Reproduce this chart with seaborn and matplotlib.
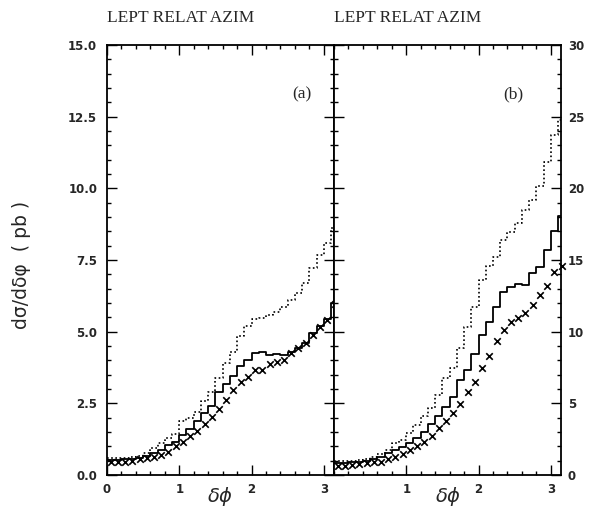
import numpy as np
import pandas as pd
import matplotlib
matplotlib.use("Agg")
import matplotlib.pyplot as plt
import seaborn as sns
from matplotlib.ticker import MultipleLocator

# ---- data (bin width 0.1 in delta-phi, 32 bins) ----
bin_edges = [round(0.1 * i, 2) for i in range(33)]

a_solid = [0.52, 0.53, 0.55, 0.57, 0.60, 0.66, 0.76, 0.87, 1.05, 1.16,
           1.40, 1.60, 1.89, 2.15, 2.41, 2.91, 3.16, 3.45, 3.80, 4.01,
           4.24, 4.28, 4.20, 4.22, 4.20, 4.30, 4.42, 4.59, 4.95, 5.20,
           5.45, 6.00]
a_dotted = [0.60, 0.60, 0.61, 0.62, 0.66, 0.78, 0.93, 1.10, 1.28, 1.43,
            1.89, 1.98, 2.21, 2.59, 2.90, 3.37, 3.90, 4.30, 4.85, 5.20,
            5.45, 5.47, 5.58, 5.70, 5.85, 6.10, 6.34, 6.69, 7.21, 7.67,
            8.08, 8.60]
a_cross = [0.44, 0.46, 0.46, 0.50, 0.56, 0.58, 0.63, 0.69, 0.81, 1.00,
           1.15, 1.35, 1.55, 1.77, 2.03, 2.31, 2.60, 2.95, 3.23, 3.41,
           3.65, 3.65, 3.87, 3.95, 4.00, 4.24, 4.42, 4.61, 4.88, 5.17,
           5.41, 5.96]

b_solid = [0.85, 0.86, 0.88, 0.92, 1.00, 1.13, 1.28, 1.56, 1.74, 1.98,
           2.26, 2.56, 3.02, 3.53, 4.12, 4.77, 5.47, 6.63, 7.33, 8.42,
           9.77, 10.65, 11.70, 12.79, 13.14, 13.33, 13.26, 14.12, 14.54, 15.70,
           17.00, 18.10]
b_dotted = [0.98, 1.00, 1.00, 1.05, 1.12, 1.28, 1.44, 1.74, 2.21, 2.44,
            2.91, 3.49, 4.12, 4.65, 5.58, 6.75, 7.44, 8.84, 10.35, 11.74,
            13.60, 14.60, 15.23, 16.40, 16.98, 17.56, 18.49, 19.19, 20.17, 21.86,
            23.70, 24.77]
b_cross = [0.65, 0.65, 0.72, 0.77, 0.81, 0.93, 0.93, 1.12, 1.23, 1.44,
           1.74, 2.02, 2.33, 2.75, 3.30, 3.77, 4.35, 4.93, 5.81, 6.47,
           7.44, 8.30, 9.37, 10.12, 10.70, 10.93, 11.28, 11.86, 12.56, 13.19,
           14.19, 14.60]

panel_titles = ["LEPT RELAT AZIM", "LEPT RELAT AZIM"]
panel_tags = ["(a)", "(b)"]
y_label = "dσ/dδφ  ( pb )"
x_label = r"$\delta\phi$"

# ---- figure ----
sns.set_theme(style="white")
plt.rcParams["font.family"] = ["DejaVu Sans"]

fig = plt.figure(figsize=(5.89, 5.15), dpi=100)
L, R, M = 107 / 589, 561 / 589, 334 / 589
B, T = 1 - 475 / 515, 1 - 45 / 515
axa = fig.add_axes([L, B, M - L, T - B])
axb = fig.add_axes([M, B, R - M, T - B])

edges = np.array(bin_edges)
centers = (edges[:-1] + edges[1:]) / 2


def draw(ax, solid, dotted, cross):
    xs = list(edges)
    df_s = pd.DataFrame({"x": xs, "y": list(solid) + [solid[-1]]})
    df_d = pd.DataFrame({"x": xs, "y": list(dotted) + [dotted[-1]]})
    sns.lineplot(data=df_d, x="x", y="y", ax=ax, color="black", lw=1.2,
                 linestyle=(0, (1, 1.5)), drawstyle="steps-post",
                 estimator=None, sort=False)
    sns.lineplot(data=df_s, x="x", y="y", ax=ax, color="black", lw=1.3,
                 drawstyle="steps-post", estimator=None, sort=False)
    df_c = pd.DataFrame({"x": centers, "y": cross})
    sns.scatterplot(data=df_c, x="x", y="y", ax=ax, marker="x", color="black",
                    s=22, linewidth=1.2, clip_on=False, zorder=5)


draw(axa, a_solid, a_dotted, a_cross)
draw(axb, b_solid, b_dotted, b_cross)

tickfont = dict(family="DejaVu Sans", weight="bold", size=8.5)

for i, (ax, ymax, ymaj, ymin) in enumerate([(axa, 15.0, 2.5, 0.5),
                                             (axb, 30, 5, 1)]):
    ax.set_xlim(0, np.pi)
    ax.set_ylim(0, ymax)
    ax.set_xlabel("")
    ax.set_ylabel("")
    ax.xaxis.set_major_locator(MultipleLocator(1))
    ax.xaxis.set_minor_locator(MultipleLocator(0.2))
    ax.yaxis.set_major_locator(MultipleLocator(ymaj))
    ax.yaxis.set_minor_locator(MultipleLocator(ymin))
    ax.tick_params(which="both", direction="in", top=True, bottom=True,
                   left=True, right=True, color="black", width=1.0)
    ax.tick_params(which="major", length=7)
    ax.tick_params(which="minor", length=3)
    for s in ax.spines.values():
        s.set_color("black")
        s.set_linewidth(1.3)
    ax.text(x=0.0, y=1.045, s=panel_titles[i], transform=ax.transAxes,
            ha="left", va="bottom", family="Liberation Serif", fontsize=12.5)

axa.tick_params(labelleft=True, labelright=False)
axa.set_xticks([0, 1, 2, 3])
axa.set_xticklabels(["0", "1", "2", "3"], **tickfont)
yt = np.arange(0, 15.01, 2.5)
axa.set_yticks(yt)
axa.set_yticklabels([f"{v:.1f}" for v in yt], **tickfont)
axa.tick_params(axis="y", pad=7)
axa.tick_params(axis="x", pad=6)

axb.tick_params(labelleft=False, labelright=True)
axb.set_xticks([1, 2, 3])
axb.set_xticklabels(["1", "2", "3"], **tickfont)
yb = np.arange(0, 31, 5)
axb.set_yticks(yb)
axb.set_yticklabels([f"{v:d}" for v in yb], **tickfont)
axb.tick_params(axis="y", pad=5)
axb.tick_params(axis="x", pad=6)

axa.text(0.86, 0.885, panel_tags[0], transform=axa.transAxes, ha="center",
         va="center", family="Liberation Serif", fontsize=12.5)
axb.text(0.79, 0.885, panel_tags[1], transform=axb.transAxes, ha="center",
         va="center", family="Liberation Serif", fontsize=12.5)

fig.text(22 / 589, 1 - 265 / 515, y_label, rotation=90, ha="center",
         va="center", fontsize=13.5)
fig.text(220 / 589, 1 - 497 / 515, x_label, ha="center", va="center",
         fontsize=14)
fig.text(448 / 589, 1 - 497 / 515, x_label, ha="center", va="center",
         fontsize=14)

fig.savefig("out.png", dpi=100, facecolor="white")
